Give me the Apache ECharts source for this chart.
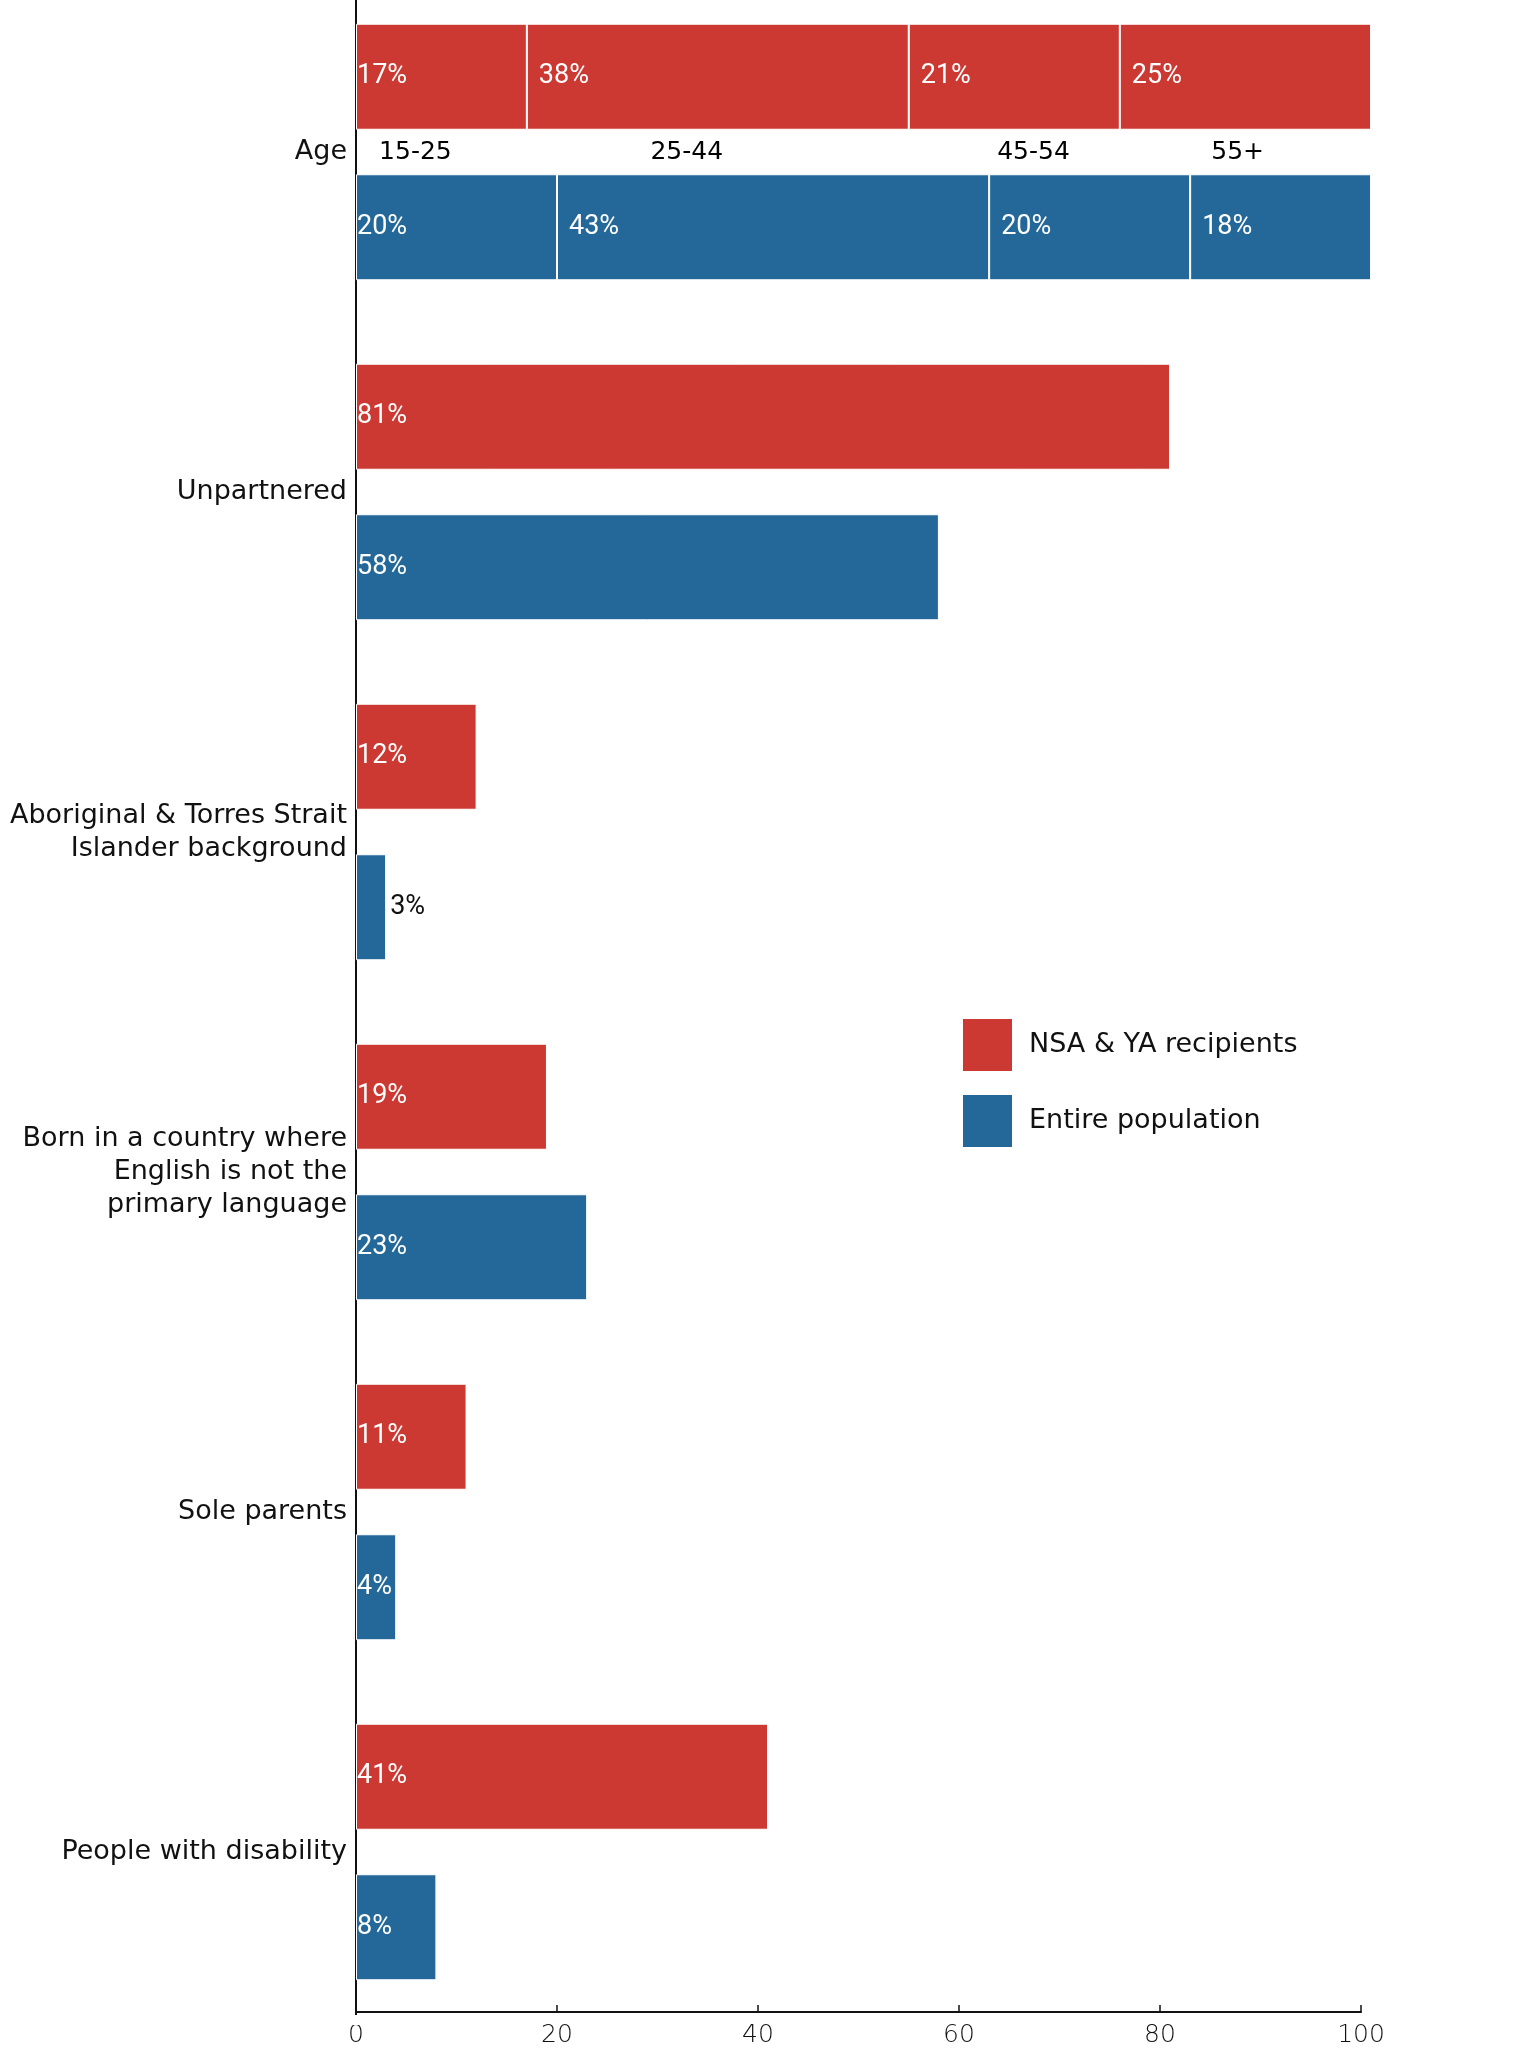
<!DOCTYPE html>
<html>
<head>
<meta charset="utf-8">
<script src="https://cdn.jsdelivr.net/npm/echarts@6/dist/echarts.min.js"></script>
<style>
html,body{margin:0;padding:0;background:#fff;overflow:hidden;}
#chart{position:absolute;left:0;top:-18px;width:1516px;height:2066px;}
</style>
</head>
<body>
<div id="chart"></div>
<script>
// ---- data ----
const categories = [
  'Age',
  'Unpartnered',
  'Aboriginal & Torres Strait\nIslander background',
  'Born in a country where\nEnglish is not the\nprimary language',
  'Sole parents',
  'People with disability'
];
const ageGroups = ['15-25', '25-44', '45-54', '55+'];
const nsaAge = [17, 38, 21, 25];
const popAge = [20, 43, 20, 18];
const nsaOther = [81, 12, 19, 11, 41];   // Unpartnered .. People with disability
const popOther = [58, 3, 23, 4, 8];
const seriesNames = ['NSA & YA recipients', 'Entire population'];
const xTicks = [0, 20, 40, 60, 80, 100];

// ---- styling ----
const RED = '#cc3832';
const BLUE = '#246899';
const TXT = '#111111';
const FONT = "'DejaVu Sans', 'Noto Sans', sans-serif";
const NUMFONT = "Roboto, 'Noto Sans', sans-serif";

function barLabel(dist) {
  return {
    show: true, position: 'insideLeft', distance: dist,
    formatter: '{c}%', color: '#fff', fontSize: 27, fontWeight: 'normal',
    fontFamily: NUMFONT
  };
}

function buildSeries(name, color, ageVals, otherVals, stack) {
  const out = [];
  ageVals.forEach((v, k) => {
    const data = categories.map((c, i) => {
      if (i === 0) return v;
      if (k === 0) {
        const val = otherVals[i - 1];
        if (val <= 3) {
          return { value: val, label: { position: 'right', color: TXT, distance: 4 } };
        }
        return val;
      }
      return '-';
    });
    out.push({
      type: 'bar', name: name, stack: stack, clip: false,
      barWidth: 106, barGap: '42%',
      itemStyle: { color: color, borderColor: '#ffffff', borderWidth: 1 },
      label: barLabel(k === 0 ? 1 : 12),
      emphasis: { disabled: true },
      data: data
    });
  });
  return out;
}

const agePos = [2.3, 29.3, 63.8, 85.1];
const ageLabelSeries = {
  type: 'scatter', symbolSize: 0, silent: true, z: 5,
  itemStyle: { opacity: 1 },
  label: {
    show: true, position: 'right', distance: 0,
    formatter: p => p.name, color: '#000', fontSize: 25, fontWeight: 'normal',
    fontFamily: FONT
  },
  data: ageGroups.map((g, i) => ({ name: g, value: [agePos[i], categories[0]] }))
};

const option = {
  backgroundColor: '#ffffff',
  animation: false,
  grid: { left: 356, right: 155, top: 0, bottom: 24, containLabel: false },
  legend: {
    data: seriesNames,
    orient: 'vertical', left: 961, top: 1035,
    itemWidth: 51, itemHeight: 54, itemGap: 20, icon: 'rect',
    padding: 0,
    textStyle: { color: TXT, fontSize: 27, fontFamily: FONT, padding: [0, 0, 0, 11] }
  },
  graphic: [{
    type: 'rect', left: 349, top: 2033, z: 100, silent: true,
    shape: { width: 14, height: 10 }, style: { fill: '#ffffff' }
  }],
  xAxis: {
    type: 'value', min: 0, max: 100, interval: 20, offset: -10,
    axisLine: { show: true, lineStyle: { color: TXT, width: 2 } },
    axisTick: { show: true, inside: true, length: 7, lineStyle: { color: TXT, width: 1.5 } },
    splitLine: { show: false },
    axisLabel: {
      color: TXT, fontSize: 25, fontFamily: FONT, fontWeight: 200, margin: 11,
      formatter: v => (xTicks.indexOf(v) >= 0 ? String(v) : '')
    }
  },
  yAxis: {
    type: 'category', inverse: true, data: categories,
    axisLine: { show: true, lineStyle: { color: TXT, width: 2 } },
    axisTick: { show: false },
    axisLabel: {
      color: TXT, fontSize: 27, fontFamily: FONT,
      lineHeight: 33, margin: 9, align: 'right'
    }
  },
  series: [].concat(
    buildSeries(seriesNames[0], RED, nsaAge, nsaOther, 'nsa'),
    buildSeries(seriesNames[1], BLUE, popAge, popOther, 'pop'),
    [ageLabelSeries]
  )
};

const chart = echarts.init(document.getElementById('chart'), null, { renderer: 'canvas' });
chart.setOption(option);
</script>
</body>
</html>
